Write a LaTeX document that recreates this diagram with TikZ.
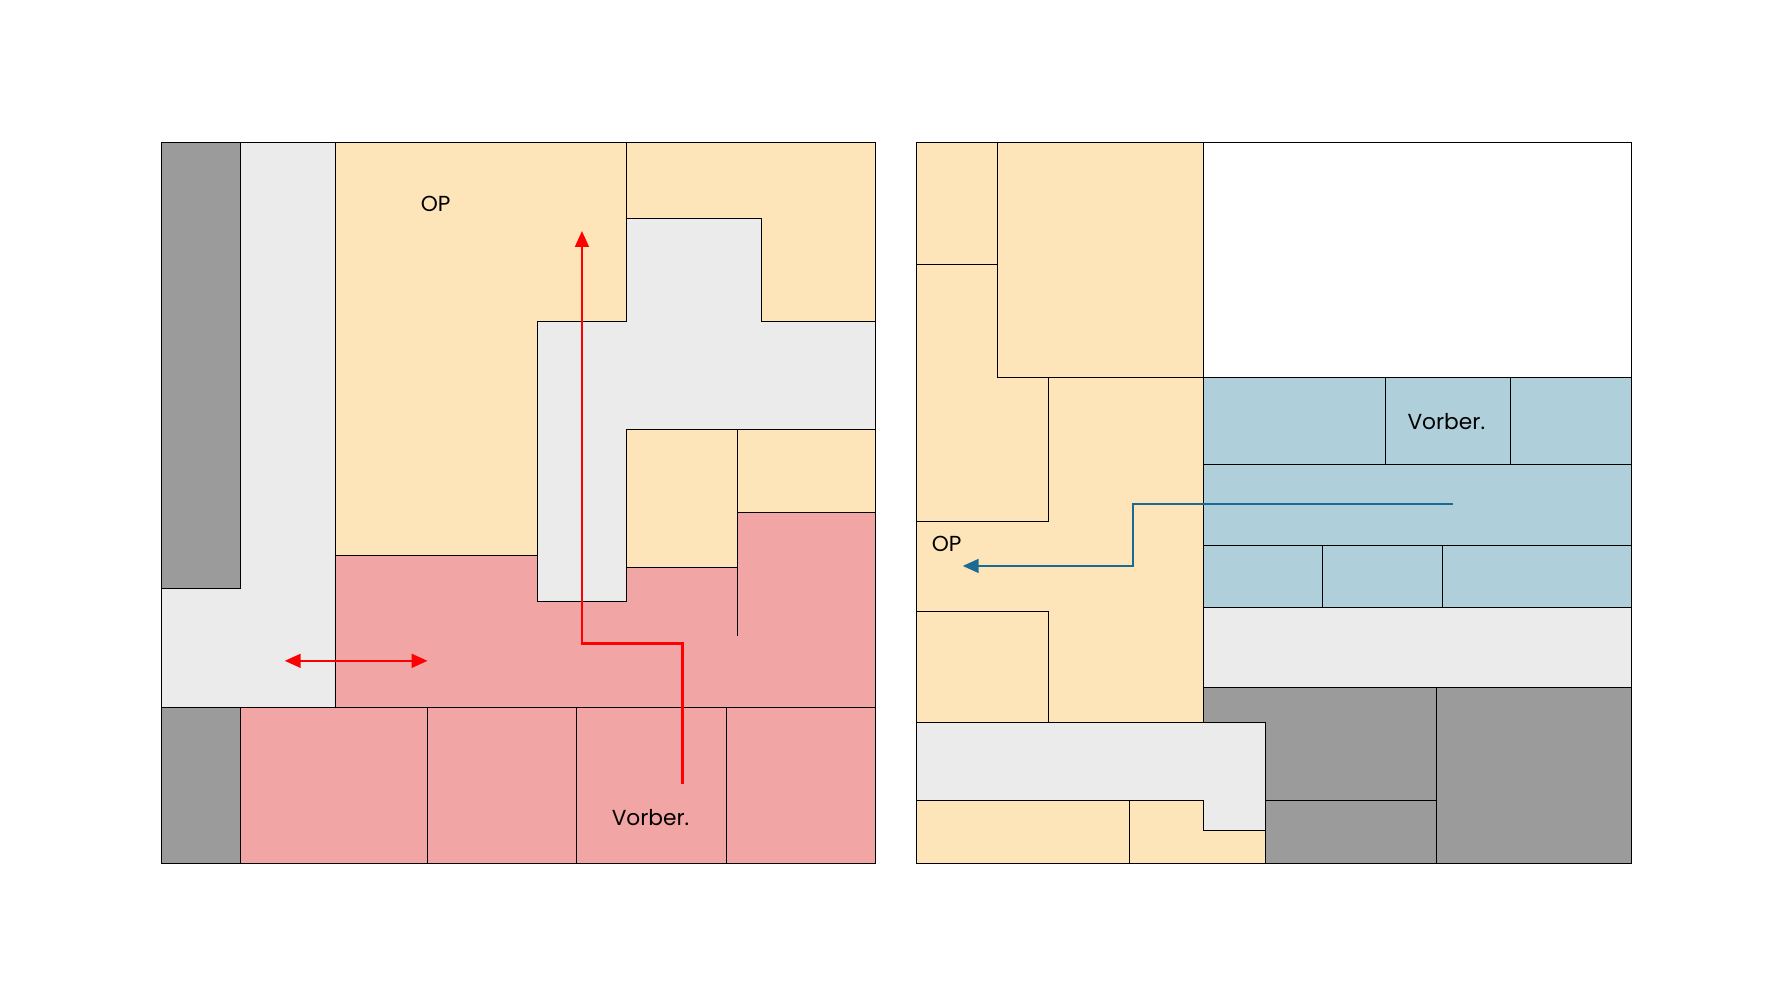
\documentclass[tikz,border=0pt]{standalone}
\usepackage{fontspec}
\setmainfont{Poppins}
\usetikzlibrary{arrows.meta}
\definecolor{ye}{HTML}{FDE5B9}
\definecolor{lg}{HTML}{EBEBEB}
\definecolor{dg}{HTML}{9B9B9C}
\definecolor{rd}{HTML}{F2A5A5}
\definecolor{bl}{HTML}{AFD0DA}
\definecolor{ar}{HTML}{FF0000}
\definecolor{ab}{HTML}{1A6A94}
\tikzset{room/.style={draw=black,line width=0.8pt},
 lbl/.style={font=\fontsize{19}{22}\selectfont,inner sep=0pt},
 arw/.style={line width=2.2pt,-{Triangle[length=14pt,width=12pt]}}}
\begin{document}
\begin{tikzpicture}[x=1pt,y=-1pt]
\useasboundingbox (0,0) rectangle (1556,875);
% left plan
\fill[white] (0,0) rectangle (1556,875);
\path[room,fill=dg] (141,125) rectangle (210,515);
\path[room,fill=dg] (141,619) rectangle (210,755);
\path[room,fill=lg] (210,125)--(293,125)--(293,619)--(141,619)--(141,515)--(210,515)--cycle;
\path[room,fill=ye] (293,125)--(548,125)--(548,281)--(470,281)--(470,486)--(293,486)--cycle;
\path[room,fill=ye] (548,125)--(766,125)--(766,281)--(666,281)--(666,191)--(548,191)--cycle;
\path[room,fill=lg] (548,191)--(666,191)--(666,281)--(766,281)--(766,376)--(548,376)--(548,526)--(470,526)--(470,281)--(548,281)--cycle;
\path[room,fill=ye] (548,376) rectangle (645,496);
\path[room,fill=ye] (645,376) rectangle (766,448);
\path[room,fill=rd] (293,486)--(470,486)--(470,526)--(548,526)--(548,496)--(645,496)--(645,448)--(766,448)--(766,619)--(293,619)--cycle;
\draw[room] (645,496)--(645,556);
\foreach \a/\b in {210/374,374/504,504/635,635/766}
  \path[room,fill=rd] (\a,619) rectangle (\b,755);
\node[lbl] (op1) at (381,178) {OP};
\node[lbl] (vb1) at (569,715) {Vorber.};
\coordinate (r0) at (597,686);
\coordinate (r1) at (597,563);
\coordinate (r2) at (509,563);
\coordinate (r3) at (509,202);
\draw[arw,ar] (r0)--(r1)--(r2)--(r3);
\coordinate (d0) at (249,578);
\coordinate (d1) at (374,578);
\draw[arw,ar,{Triangle[length=14pt,width=12pt]}-{Triangle[length=14pt,width=12pt]}] (d0)--(d1);
% right plan
\path[room,fill=white] (1053,125) rectangle (1427,330);
\path[room,fill=ye] (802,125) rectangle (872,231);
\path[room,fill=ye] (872,125) rectangle (1053,330);
\path[room,fill=ye] (802,231)--(872,231)--(872,330)--(917,330)--(917,456)--(802,456)--cycle;
\path[room,fill=ye] (802,456)--(917,456)--(917,330)--(1053,330)--(1053,632)--(917,632)--(917,535)--(802,535)--cycle;
\path[room,fill=ye] (802,535) rectangle (917,632);
\foreach \a/\b in {1053/1212,1212/1321,1321/1427}
  \path[room,fill=bl] (\a,330) rectangle (\b,406);
\path[room,fill=bl] (1053,406) rectangle (1427,477);
\foreach \a/\b in {1053/1157,1157/1262,1262/1427}
  \path[room,fill=bl] (\a,477) rectangle (\b,531);
\path[room,fill=lg] (1053,531) rectangle (1427,601);
\path[room,fill=dg] (1053,601)--(1256,601)--(1256,755)--(1107,755)--(1107,632)--(1053,632)--cycle;
\draw[room] (1107,700)--(1256,700);
\path[room,fill=dg] (1256,601) rectangle (1427,755);
\path[room,fill=lg] (802,632)--(1107,632)--(1107,726)--(1053,726)--(1053,700)--(802,700)--cycle;
\path[room,fill=ye] (802,700) rectangle (988,755);
\path[room,fill=ye] (988,700)--(1053,700)--(1053,726)--(1107,726)--(1107,755)--(988,755)--cycle;
\node[lbl] (op2) at (828,476) {OP};
\node[lbl] (vb2) at (1265,369) {Vorber.};
\coordinate (b0) at (1271,441);
\coordinate (b1) at (991,441);
\coordinate (b2) at (991,495);
\coordinate (b3) at (842,495);
\draw[arw,ab] (b0)--(b1)--(b2)--(b3);
\end{tikzpicture}
\end{document}
